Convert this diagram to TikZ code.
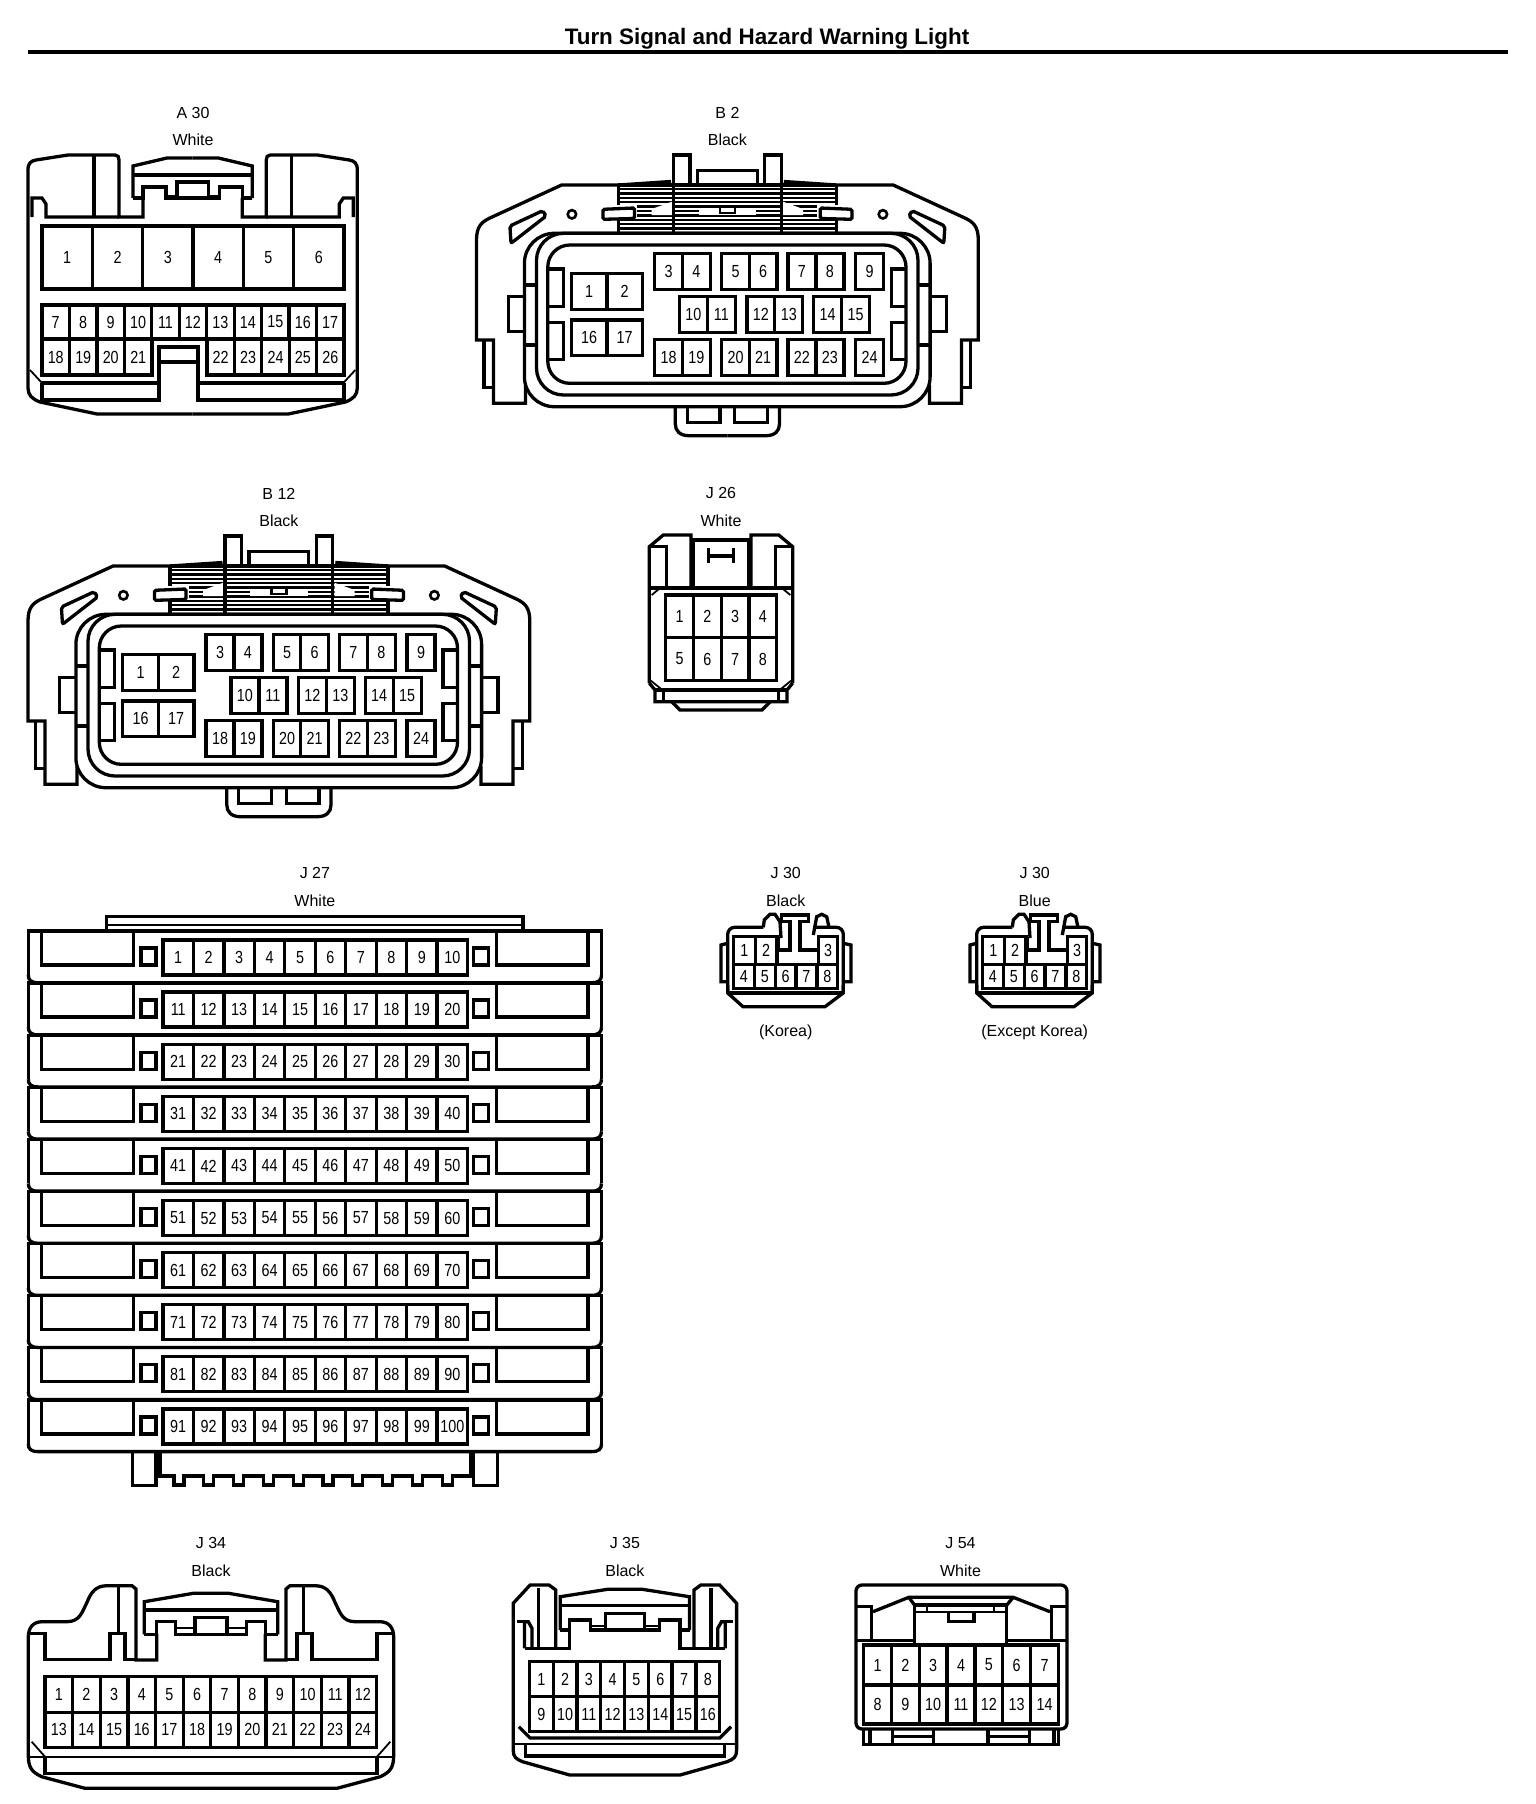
\documentclass[tikz,border=0pt]{standalone}
\usepackage{fontspec}
\setmainfont{Liberation Sans}
\newfontfamily\pinface[FakeStretch=0.82]{Liberation Sans}
\tikzset{pinbox/.style={draw,inner sep=0pt,font=\pinface\fontsize{17.5}{17.5}\selectfont},
	tagtext/.style={inner sep=0pt,font=\fontsize{16}{16}\selectfont},
	hairline/.style={line width=1.8pt},
	hatchline/.style={line width=2.5pt},
	flipx/.style={shift={(#1,0)},xscale=-1}}
% name, left, top, cell width, cell height, first pin, last pin
\newcommand{\pinrow}[7]{%
	\foreach \n [count=\k from 0] in {#6,...,#7}
		\node[pinbox,minimum width=#4pt,minimum height=#5pt] (#1\n) at ({#2+(\k+.5)*#4},{#3+#5/2}) {\n};}
\newcommand{\ahalf}{%
	\draw (192.7,414) -- (97,414) -- (40,402) .. controls (32,399) and (28,395) .. (28,388) -- (28,170)
		.. controls (28,163) and (31,161) .. (36,160) -- (68,155) -- (115,155)
		.. controls (118,155) and (119,157) .. (119,160) -- (119,217) -- (143,217) -- (143,198);
	\draw (94,155) -- (94,217);
	\draw (32,217) -- (32,198) -- (42,198) -- (46,204) -- (46,217) -- (119,217);
	\draw (133,198) -- (133,166) -- (167,158) -- (192.7,158);
	\draw (133,175) -- (192.7,175);
	\draw (133,198) -- (143,198) -- (143,187) -- (166,187) -- (166,198) -- (177,198) -- (177,182) -- (192.7,182);
	\draw (177,198) -- (192.7,198);
	\draw[hairline] (166,196) -- (177,196);
	\draw[hairline] (30,370) -- (42,383);}
\newcommand{\bhalf}{%
	\foreach \hy in {189,193.4,...,233}
		\draw[hatchline] (618.4,\hy) -- (727.4,\hy);
	\fill[white] (618.4,205) rectangle (637.4,219);
	\fill[white] (651.7,209) -- (671.8,201.7) -- (671.8,215) -- (651.7,215) -- cycle;
	\fill[white] (698.5,208) rectangle (727.4,215);
	\draw[line width=2.4pt] (720,208) -- (720,213) -- (727.4,213);
	\draw (618.4,185) -- (618.4,205) (618.4,219) -- (618.4,233.3);
	\draw[fill=white,rounded corners=1.5pt] (602.9,209.3) -- (634.5,208) -- (634.5,218.5) -- (602.9,219.3) -- cycle;
	\draw (525.4,385) -- (525.4,403.3) -- (493.4,403.3) -- (493.4,340) -- (476.5,340) -- (476.5,240)
		.. controls (476.5,226) and (482,222) .. (489.3,218.3) -- (561.6,185) -- (618.4,185) -- (671,181.5);
	\draw (484.1,340) -- (484.1,387.3) -- (493.4,387.3);
	\draw (673.5,233.3) -- (673.5,155) -- (690,155) -- (690,185);
	\draw (618.4,185) -- (727.4,185);
	\draw (697.6,185) -- (697.6,170.7) -- (727.4,170.7);
	\draw[rounded corners=2pt] (509.9,226) -- (542.7,210.7) -- (546.1,216) -- (511,243.3) -- cycle;
	\draw[line width=2.6pt] (571.9,214.3) circle (4.2pt);
	\draw (524.4,296.7) -- (508.2,296.7) -- (508.2,331.7) -- (524.4,331.7);
	\draw (524.4,285) -- (536.5,285) (524.4,345) -- (536.5,345);
	\draw (547.8,269) -- (563.3,269) -- (563.3,306.7) -- (547.8,306.7);
	\draw (547.8,322.7) -- (563.3,322.7) -- (563.3,359.3) -- (547.8,359.3);
	\draw (675.3,406.7) -- (675.3,424) .. controls (675.3,431) and (680,435.7) .. (689,435.7) -- (727.4,435.7);
	\draw (687.3,406.7) -- (687.3,422.3) -- (720,422.3) -- (720,406.7);}
\newcommand{\bconn}[1]{%
	\begin{scope}
		\bhalf
	\end{scope}
	\begin{scope}[flipx=1454.8]
		\bhalf
	\end{scope}
	\draw[rounded corners=30pt] (524.4,233.3) rectangle (930.1,406.7);
	\draw[rounded corners=27pt] (536.5,233.3) rectangle (918,395);
	\draw[rounded corners=22pt] (547.8,245) rectangle (906,383.3);
	\pinrow{#1}{571.2}{273.3}{35.65}{36}{1}{2}
	\pinrow{#1}{571.2}{320}{35.65}{35.7}{16}{17}
	\pinrow{#1}{654.6}{253.3}{27.9}{36}{3}{4}
	\pinrow{#1}{721.7}{253.3}{27.6}{36}{5}{6}
	\pinrow{#1}{787.9}{253.3}{28}{36}{7}{8}
	\pinrow{#1}{855.4}{253.3}{28.2}{36}{9}{9}
	\pinrow{#1}{679.4}{296.7}{28}{35.6}{10}{11}
	\pinrow{#1}{746.9}{296.7}{27.9}{35.6}{12}{13}
	\pinrow{#1}{813.7}{296.7}{28}{35.6}{14}{15}
	\pinrow{#1}{654.6}{339.3}{27.9}{36.4}{18}{19}
	\pinrow{#1}{721.7}{339.3}{27.6}{36.4}{20}{21}
	\pinrow{#1}{787.9}{339.3}{28}{36.4}{22}{23}
	\pinrow{#1}{855.4}{339.3}{28.2}{36.4}{24}{24}}
\newcommand{\jhalf}{%
	\draw (649.3,683) -- (649.3,546.7) -- (663.3,535) -- (691,535) -- (691,588);
	\draw (649.3,546.7) -- (666.7,546.7) -- (666.7,588);
	\draw (649.3,683) -- (655,690) -- (655,701.7) -- (721,701.7);
	\draw (655,690) -- (721,690);
	\draw (663.3,690) -- (663.3,701.7);
	\draw (671.7,701.7) -- (680,710) -- (721,710);
	\draw[hairline] (650,680) -- (663.3,690.7) (651.7,595) -- (661.7,586.7);
	\draw (693.3,588) -- (693.3,540) -- (721,540);
	\draw (708.3,548.3) -- (708.3,563.3);
	\draw (708.3,556) -- (721,556);}
\newcommand{\jthirty}[1]{%
	\draw[rounded corners=7pt] (763.3,927.3) -- (727.7,927.3) -- (727.7,993);
	\draw (727.7,985) -- (727.7,993) -- (743,1006.7) -- (825,1006.7) -- (843.3,993) -- (843.3,985);
	\draw[rounded corners=7pt] (843.3,993) -- (843.3,927.3) -- (813.3,927.3);
	\draw (727.7,993) -- (843.3,993);
	\draw (727.7,943.3) -- (721,945) -- (721,981.7) -- (727.7,981.7);
	\draw (843.3,943.3) -- (851,945) -- (851,981.7) -- (843.3,981.7);
	\draw (763.3,927.3) -- (764.3,920) -- (770,914.3) -- (775,914.3) -- (780,921.7) -- (781,938);
	\draw (813.3,935) -- (816.7,916.7) -- (821.7,914.3) -- (826.7,916.7) -- (829,927.3);
	\draw (778.3,937) -- (778.3,950) -- (790,950) -- (790,921.7) -- (781.7,921.7) -- (781.7,915)
		-- (808.3,915) -- (808.3,921.7) -- (800,921.7) -- (800,950) -- (818.3,950) -- (818.3,937);
	\pinrow{#1}{733.5}{936.7}{21.7}{27.6}{1}{2}
	\pinrow{#1}{818.3}{936.7}{19.5}{27.6}{3}{3}
	\pinrow{#1}{733.5}{964.3}{20.85}{24}{4}{8}}
\newcommand{\jrow}{%
	\draw (28.3,975) .. controls (28.3,980) and (31,982.7) .. (38,982.7) -- (314.9,982.7);
	\draw (28.3,975) -- (28.3,931) -- (314.9,931);
	\draw (41.7,931) -- (41.7,965) -- (133.3,965) -- (133.3,931);
	\draw (141,948) rectangle (156,965);}
\newcommand{\kahalf}{%
	\draw (211,1788.3) -- (85,1788.3) -- (41.7,1776.7) .. controls (32,1772) and (28.3,1768) .. (28.3,1755)
		-- (28.3,1637) .. controls (28.3,1628) and (33,1621.7) .. (42,1621.7) -- (66.7,1621.7)
		.. controls (80,1621.7) and (82,1612) .. (86.7,1603) .. controls (91,1592) and (96,1585.7) .. (107,1585.7)
		-- (132,1585.7) -- (136,1589) -- (136,1660) -- (156.7,1660) -- (156.7,1634);
	\draw (118.3,1586) -- (118.3,1633.3);
	\draw (28.3,1633.3) -- (45,1633.3) -- (45,1659.3) -- (110,1659.3) -- (110,1633.3) -- (125,1633.3) -- (125,1659.3) -- (136,1659.3);
	\draw (144.3,1634.3) -- (144.3,1601.7) -- (193.3,1593.3) -- (211,1593.3);
	\draw (144.3,1610) -- (211,1610);
	\draw (144.3,1634.3) -- (156.7,1634.3) -- (156.7,1621.7) -- (175.7,1621.7) -- (175.7,1634.3) -- (195,1634.3) -- (195,1617.7) -- (211,1617.7);
	\draw (195,1634.3) -- (211,1634.3);
	\draw[hairline] (175.7,1628.3) -- (195,1628.3);
	\draw[hairline] (31.7,1741.7) -- (45,1756.7);
	\draw[hairline] (28.3,1756.7) -- (211,1756.7);
	\draw (45,1756.7) -- (45,1773.3) -- (211,1773.3);}
\newcommand{\kbhalf}{%
	\draw (624.9,1775) -- (569.7,1775) -- (522.6,1761.7) .. controls (516,1759) and (513.2,1757) .. (513.2,1750)
		-- (513.2,1603.3) -- (530.1,1585) -- (549,1585) -- (555.8,1590) -- (555.8,1648.3);
	\draw (524.5,1648.3) -- (569.7,1648.3) -- (569.7,1630);
	\draw (524.5,1648.3) -- (524.5,1621.7) -- (528.3,1621.7) -- (532,1628.3) -- (532,1648.3);
	\draw (517,1621.7) -- (528.3,1621.7);
	\draw (538.8,1588) -- (538.8,1648.3);
	\draw (560.3,1630) -- (560.3,1596.7) -- (607.4,1589.3) -- (624.9,1589.3);
	\draw (560.3,1605.7) -- (624.9,1605.7);
	\draw (560.3,1630) -- (569.7,1630) -- (569.7,1620) -- (590.4,1620) -- (590.4,1630) -- (605.5,1630) -- (605.5,1613.3) -- (624.9,1613.3);
	\draw (605.5,1630) -- (624.9,1630);
	\draw[hairline] (590.4,1626) -- (605.5,1626);
	\draw (518.8,1726.7) -- (530.1,1738) -- (624.9,1738);
	\draw[hairline] (513.2,1744) -- (624.9,1744);
	\draw (525.6,1744) -- (525.6,1756) -- (624.9,1756);}
\begin{document}
\begin{tikzpicture}[x=1pt,y=-1pt,line width=3.3pt]
	\useasboundingbox (0,0) rectangle (1536,1804);
	% page heading
	\node[inner sep=0pt,font=\bfseries\fontsize{22.4}{22.4}\selectfont] (title) at (767,39) {Turn Signal and Hazard Warning Light};
	\coordinate (ruleL) at (27.6,52);
	\coordinate (ruleR) at (1508,52);
	\draw[line width=4.5pt] (ruleL) -- (ruleR);

	% A 30
	\node[tagtext] (a30) at (193,113) {A 30};
	\node[tagtext] (a30col) at (193,140) {White};
	\begin{scope}
		\ahalf
	\end{scope}
	\begin{scope}[flipx=385.3]
		\ahalf
	\end{scope}
	\pinrow{a}{42}{226}{50.33}{63}{1}{6}
	\pinrow{a}{42}{305}{27.45}{34}{7}{17}
	\pinrow{a}{42}{339}{27.5}{36}{18}{21}
	\pinrow{a}{207}{339}{27.4}{36}{22}{26}
	\draw (42,383) -- (42,400) -- (159,400) -- (159,347) -- (198,347) -- (198,400) -- (344,400) -- (344,383);
	\draw (42,383) -- (159,383) (198,383) -- (344,383);
	\draw (159,362) -- (198,362);

	% B 2
	\node[tagtext] (b2) at (727.4,113) {B 2};
	\node[tagtext] (b2col) at (727.4,140) {Black};
	\bconn{b}

	% B 12
	\begin{scope}[shift={(-448.5,381)}]
		\node[tagtext] (b12) at (727.4,113) {B 12};
		\node[tagtext] (b12col) at (727.4,140) {Black};
		\bconn{c}
	\end{scope}

	% J 26
	\node[tagtext] (j26) at (721,493) {J 26};
	\node[tagtext] (j26col) at (721,521) {White};
	\begin{scope}
		\jhalf
	\end{scope}
	\begin{scope}[flipx=1442]
		\jhalf
	\end{scope}
	\draw (649.3,588) -- (792.7,588);
	\pinrow{e}{665.7}{595}{27.75}{42.3}{1}{4}
	\pinrow{e}{665.7}{637.3}{27.75}{43.4}{5}{8}

	% J 27
	\node[tagtext] (j27) at (314.9,873) {J 27};
	\node[tagtext] (j27col) at (314.9,901) {White};
	\draw (106.7,931) -- (106.7,916.7) -- (523.1,916.7) -- (523.1,931);
	\draw[hairline] (106.7,925) -- (523.1,925);
	\foreach \r in {0,...,9} {
		\begin{scope}[yshift={-\r*52.1pt}]
			\jrow
		\end{scope}
		\begin{scope}[yshift={-\r*52.1pt},flipx=629.8]
			\jrow
		\end{scope}
		\pgfmathtruncatemacro{\rfirst}{\r*10+1}
		\pgfmathtruncatemacro{\rlast}{\r*10+10}
		\pinrow{g}{163}{940+\r*52.1}{30.45}{35}{\rfirst}{\rlast}
	}
	% feet under the last row
	\draw (132.4,1451) -- (132.4,1485.7) -- (156.1,1485.7) -- (156.1,1451);
	\draw (473.6,1451) -- (473.6,1485.7) -- (497.3,1485.7) -- (497.3,1451);
	\draw (160.1,1451) -- (160.1,1476) foreach \k in {0,...,9} {-- ({174+\k*29.8},1476) -- ++(0,9) -- ++(10,0) -- ++(0,-9)} -- (470.4,1476) -- (470.4,1451);

	% J 30, two colours
	\node[tagtext] (j30a) at (785.7,873) {J 30};
	\node[tagtext] (j30acol) at (785.7,901) {Black};
	\node[tagtext] (j30anote) at (785.7,1032) {(Korea)};
	\jthirty{h}
	\begin{scope}[shift={(249,0)}]
		\node[tagtext] (j30b) at (785.7,873) {J 30};
		\node[tagtext] (j30bcol) at (785.7,901) {Blue};
		\node[tagtext] (j30bnote) at (785.7,1032) {(Except Korea)};
		\jthirty{i}
	\end{scope}

	% J 34
	\node[tagtext] (j34) at (211,1543) {J 34};
	\node[tagtext] (j34col) at (211,1571) {Black};
	\begin{scope}
		\kahalf
	\end{scope}
	\begin{scope}[flipx=422]
		\kahalf
	\end{scope}
	\pinrow{k}{45}{1676.7}{27.64}{35.6}{1}{12}
	\pinrow{k}{45}{1712.3}{27.64}{35}{13}{24}

	% J 35
	\node[tagtext] (j35) at (624.9,1543) {J 35};
	\node[tagtext] (j35col) at (624.9,1571) {Black};
	\begin{scope}
		\kbhalf
	\end{scope}
	\begin{scope}[flipx=1249.8]
		\kbhalf
	\end{scope}
	\pinrow{m}{529.4}{1661.7}{23.79}{35}{1}{8}
	\pinrow{m}{529.4}{1696.7}{23.79}{35}{9}{16}

	% J 54
	\node[tagtext] (j54) at (960.5,1543) {J 54};
	\node[tagtext] (j54col) at (960.5,1571) {White};
	\draw[rounded corners=6pt] (856,1729) -- (856,1585) -- (1067,1585) -- (1067,1729) -- cycle;
	\draw (856,1606.7) -- (871.2,1606.7) -- (871.2,1640.5);
	\draw (1067,1606.7) -- (1051.8,1606.7) -- (1051.8,1640.5);
	\draw (856,1640.5) -- (914.5,1640.5) (1006.8,1640.5) -- (1067,1640.5);
	\draw (873,1611.7) -- (908.8,1597.3) -- (1013.2,1597.3) -- (1050,1611.7);
	\draw (908.8,1597.3) -- (914.5,1605) (1013.2,1597.3) -- (1006.8,1605);
	\draw (914.5,1645) -- (914.5,1605) -- (1006.8,1605) -- (1006.8,1645);
	\draw[hairline] (914.5,1611.7) -- (1006.8,1611.7);
	\draw[hairline] (926.7,1605) -- (926.7,1611.7) (994,1605) -- (994,1611.7);
	\draw (948.4,1612) -- (948.4,1621.7) -- (974,1621.7) -- (974,1612);
	\pinrow{n}{863.6}{1645}{27.83}{40}{1}{7}
	\pinrow{n}{863.6}{1685}{27.83}{39}{8}{14}
	\draw (863.6,1729) -- (863.6,1744.3) -- (1058.4,1744.3) -- (1058.4,1729);
	\draw (870,1729) -- (870,1744.3) (1053.9,1729) -- (1053.9,1744.3);
	\draw (892.6,1729) -- (892.6,1744.3) (933.3,1729) -- (933.3,1744.3);
	\draw (988,1729) -- (988,1744.3) (1029.4,1729) -- (1029.4,1744.3);
	\draw (892.6,1736.7) -- (933.3,1736.7) (988,1736.7) -- (1029.4,1736.7);
\end{tikzpicture}
\end{document}
